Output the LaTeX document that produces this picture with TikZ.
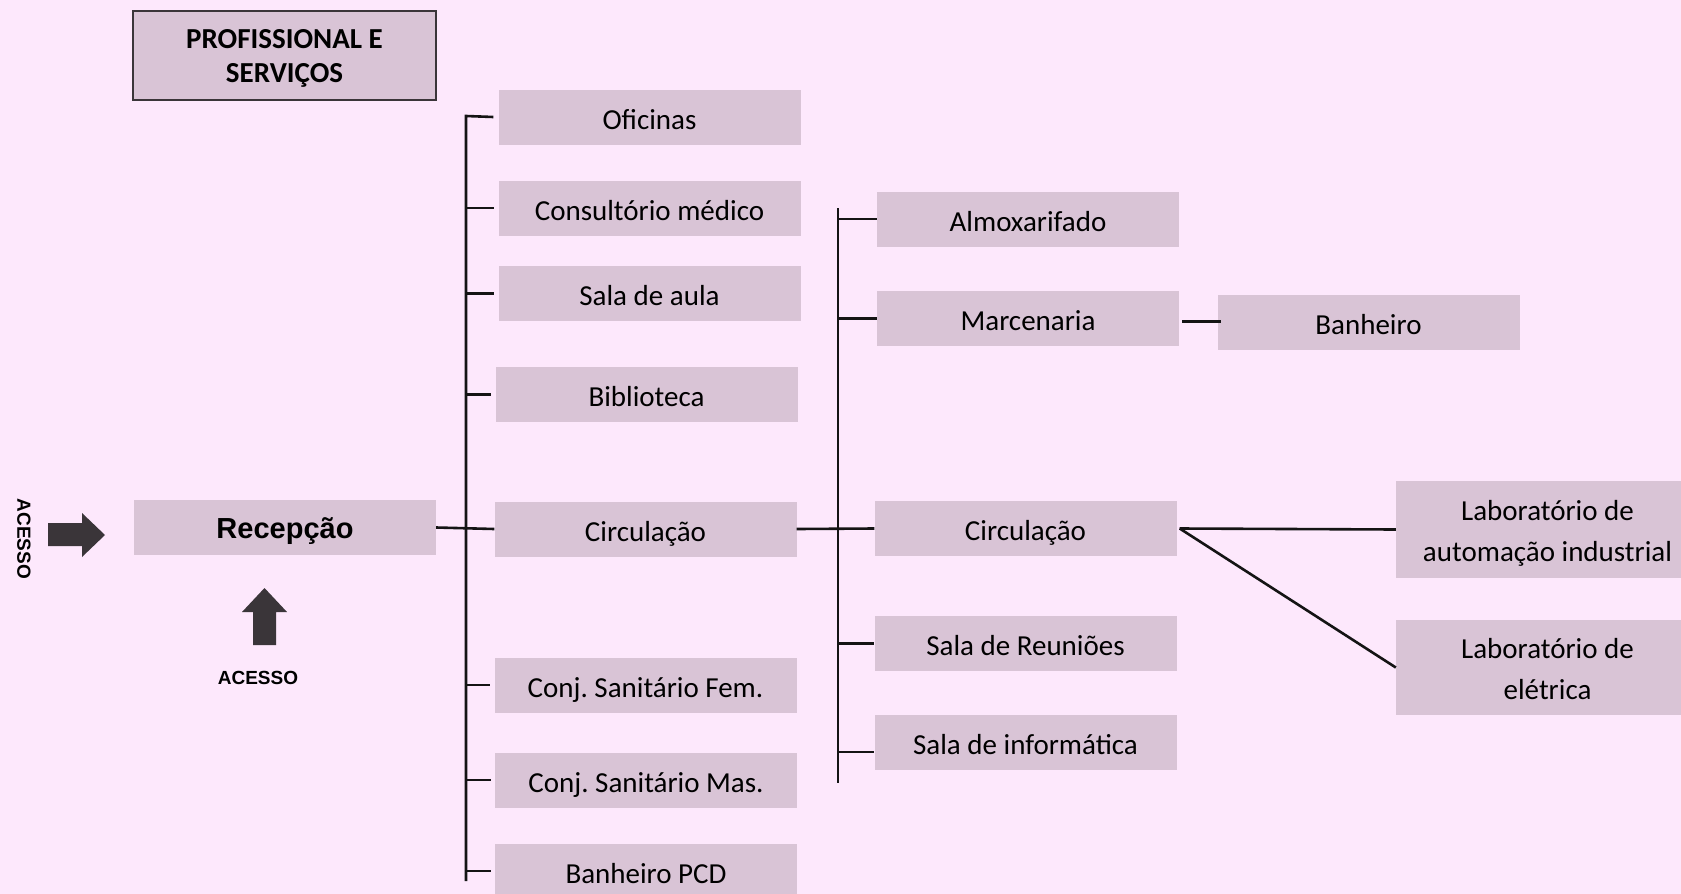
\documentclass[tikz,border=0pt]{standalone}
\usepackage{fontspec}
\setmainfont{Carlito}
\newfontfamily\arialf{Liberation Sans}
\frenchspacing
\definecolor{bgc}{RGB}{253,232,252}
\definecolor{boxc}{RGB}{217,196,214}
\definecolor{arrc}{RGB}{58,53,57}
\definecolor{linec}{RGB}{20,20,20}
\tikzset{
  panel/.style={fill=boxc, minimum width=302pt, minimum height=55pt, inner sep=0pt, align=center, text=black},
  room/.style={panel, font=\fontsize{29}{34}\selectfont, text height=27pt, text depth=3pt},
  plaintext/.style={inner sep=0pt, align=center, text=black},
  conn/.style={draw=linec, line width=2.6pt},
  bigarrow/.style={fill=arrc, draw=none}
}
\begin{document}
\begin{tikzpicture}[x=1pt,y=-1pt]
\useasboundingbox (0,0) rectangle (1681,894);
\fill[bgc] (0,0) rectangle (1681,894);
\clip (0,0) rectangle (1681,894);

% title
\node[panel, draw=arrc, line width=1.5pt, minimum width=303pt, minimum height=89pt] (titlebox) at (284.5,55.5) {};
\node[plaintext, font=\fontsize{29}{34}\selectfont\bfseries] (title) at (284.5,58.5) {PROFISSIONAL E\\SERVIÇOS};

% reception
\node[panel, font=\fontsize{29}{34}\selectfont\arialf\bfseries, text height=24pt, text depth=2.4pt] (recep) at (285,527.5) {Recepção};

% access arrows
\fill[bigarrow] (48,523) -- (82,523) -- (82,513) -- (105,535) -- (82,557) -- (82,546) -- (48,546) -- cycle;
\node[font=\fontsize{19}{22}\selectfont\arialf\bfseries, rotate=-90] (acessoA) at (24,539) {ACESSO};
\fill[bigarrow] (253,645) -- (253,612) -- (242,612) -- (264.5,588) -- (287,612) -- (276,612) -- (276,645) -- cycle;
\node[font=\fontsize{19}{22}\selectfont\arialf\bfseries] (acessoB) at (258,678) {ACESSO};

% first column
\node[room] (ofic) at (649.5,117) {Oficinas};
\node[room] (cons) at (649.5,208) {Consultório médico};
\node[room] (aula) at (649.5,293.5) {Sala de aula};
\node[room] (bibl) at (646.5,394.5) {Biblioteca};
\node[room] (circA) at (645.5,529) {Circulação};
\node[room] (fem) at (645.5,685) {Conj. Sanitário Fem.};
\node[room] (mas) at (646,780) {Conj. Sanitário Mas.};
\node[room] (pcd) at (646,871) {Banheiro PCD};

% second column
\node[room] (almox) at (1028,219) {Almoxarifado};
\node[room] (marc) at (1028,318.5) {Marcenaria};
\node[room] (banh) at (1368.5,322) {Banheiro};
\node[room] (circB) at (1025.5,528.5) {Circulação};
\node[room] (reun) at (1025.5,643.5) {Sala de Reuniões};
\node[room] (info) at (1025.5,742.5) {Sala de informática};

% labs
\node[panel, minimum width=303pt, minimum height=97pt] (labA) at (1547.5,529.5) {};
\node[plaintext, font=\fontsize{29}{41}\selectfont] (labAtext) at (1547.5,533.5) {Laboratório de\\automação industrial};
\node[panel, minimum width=303pt, minimum height=95pt] (labE) at (1547.5,667.5) {};
\node[plaintext, font=\fontsize{29}{41}\selectfont] (labEtext) at (1547.5,669.5) {Laboratório de\\elétrica};

% left bus
\coordinate (busAtop) at (466,116);
\coordinate (busAbot) at (466,881);
\draw[conn] ([xshift=-5pt]ofic.west) -- (busAtop) -- (busAbot);
\foreach \n in {cons,aula,bibl,fem,mas,pcd}{
  \draw[conn] (busAtop |- \n.west) -- ([xshift=-4pt]\n.west);
}
\draw[conn] (recep.east) -- (circA.west);

% middle bus
\coordinate (busBtop) at (838,208);
\coordinate (busBbot) at (838,783);
\draw[conn] (busBtop) -- (busBbot);
\draw[conn] (busBtop |- almox.west) -- (almox.west);
\draw[conn] (busBtop |- marc.west) -- (marc.west);
\draw[conn] (busBtop |- reun.west) -- (reun.west);
\draw[conn] (838,752) -- (info.west |- 0,752);
\draw[conn] (circA.east) -- (circB.west);

% right branches
\draw[conn] ([xshift=3pt]marc.east |- 0,321.5) -- ([xshift=4pt]banh.west |- 0,321.5);
\draw[conn] ([xshift=3pt]circB.east) -- (labA.west);
\draw[conn] ([xshift=3pt]circB.east) -- (labE.west);
\end{tikzpicture}
\end{document}
